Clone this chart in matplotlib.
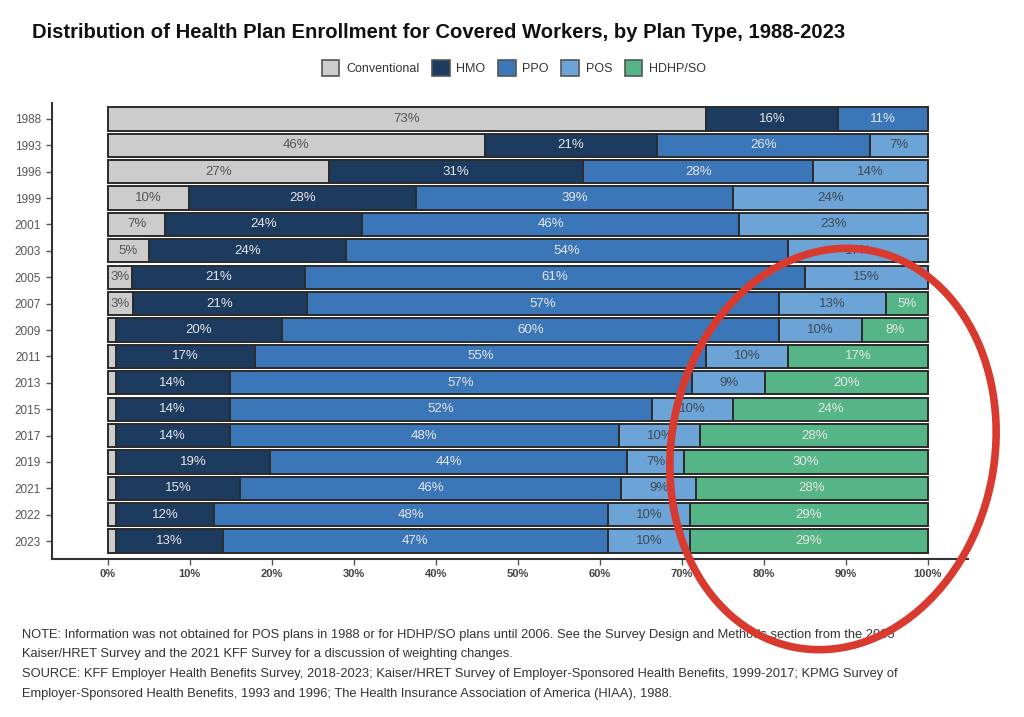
import matplotlib
matplotlib.use("Agg")
import matplotlib.pyplot as plt
import numpy as np
from matplotlib.patches import Patch, Ellipse

plt.rcParams['font.family'] = ['Liberation Sans', 'DejaVu Sans']

years = ["1988", "1993", "1996", "1999", "2001", "2003", "2005", "2007", "2009",
         "2011", "2013", "2015", "2017", "2019", "2021", "2022", "2023"]
plan_types = ["Conventional", "HMO", "PPO", "POS", "HDHP/SO"]
conventional = [73, 46, 27, 10, 7, 5, 3, 3, 1, 1, 1, 1, 1, 1, 1, 1, 1]
hmo = [16, 21, 31, 28, 24, 24, 21, 21, 20, 17, 14, 14, 14, 19, 15, 12, 13]
ppo = [11, 26, 28, 39, 46, 54, 61, 57, 60, 55, 57, 52, 48, 44, 46, 48, 47]
pos = [0, 7, 14, 24, 23, 17, 15, 13, 10, 10, 9, 10, 10, 7, 9, 10, 10]
hdhp = [0, 0, 0, 0, 0, 0, 0, 5, 8, 17, 20, 24, 28, 30, 28, 29, 29]
x_ticks = [0, 10, 20, 30, 40, 50, 60, 70, 80, 90, 100]

colors = ["#CCCCCC", "#1D3A5F", "#3A76B8", "#6CA4D8", "#55B587"]
text_colors = ["#555555", "#E6E6E6", "#E6E6E6", "#3F4A55", "#E6E6E6"]

series = np.array([conventional, hmo, ppo, pos, hdhp], dtype=float)
totals = series.sum(axis=0)
shares = series / totals * 100

W, H = 1024, 717
fig = plt.figure(figsize=(W / 100, H / 100), dpi=100)
ax = fig.add_axes([52 / W, 1 - 559 / H, (968 - 52) / W, (559 - 103) / H])

ypos = np.arange(len(years))
left = np.zeros(len(years))
for i, name in enumerate(plan_types):
    ax.barh(ypos, shares[i], left=left, height=0.88, color=colors[i],
            edgecolor="#2B2B2B", linewidth=1.4, label=name, zorder=2)
    for j in range(len(years)):
        v = series[i, j]
        if v >= 2:
            ax.text(left[j] + shares[i, j] / 2, ypos[j], f"{int(v)}%",
                    ha="center", va="center", fontsize=9.5,
                    color=text_colors[i], zorder=3)
    left += shares[i]

ax.set_ylim(len(years) - 1 + 0.68, -0.605)
ax.set_xlim(-6.8, 104.9)
ax.set_yticks(ypos)
ax.set_yticklabels(years, fontsize=8.5, color="#555555")
ax.set_xticks(x_ticks)
ax.set_xticklabels([f"{t}%" for t in x_ticks], fontsize=8, color="#444444",
                   fontweight="bold")
for s in ["top", "right"]:
    ax.spines[s].set_visible(False)
for s in ["left", "bottom"]:
    ax.spines[s].set_color("#333333")
    ax.spines[s].set_linewidth(1.5)
ax.tick_params(axis="both", colors="#555555", length=4, width=1)
ax.tick_params(axis="y", labelcolor="#555555", pad=4)
ax.tick_params(axis="x", labelcolor="#444444", pad=3)

fig.text(32 / W, 1 - 32 / H,
         "Distribution of Health Plan Enrollment for Covered Workers, by Plan Type, 1988-2023",
         fontsize=14.6, fontweight="bold", color="#111111", va="center", ha="left")

handles = [Patch(facecolor=colors[i], edgecolor="#555555", linewidth=1.2,
                 label=plan_types[i]) for i in range(len(plan_types))]
fig.legend(handles=handles, loc="center", bbox_to_anchor=(514 / W, 1 - 68 / H),
           ncol=5, frameon=False, fontsize=9, handlelength=1.4,
           handleheight=1.7, handletextpad=0.55, columnspacing=1.0,
           labelcolor="#333333")

notes = [
    "NOTE: Information was not obtained for POS plans in 1988 or for HDHP/SO plans until 2006. See the Survey Design and Methods section from the 2005",
    "Kaiser/HRET Survey and the 2021 KFF Survey for a discussion of weighting changes.",
    "SOURCE: KFF Employer Health Benefits Survey, 2018-2023; Kaiser/HRET Survey of Employer-Sponsored Health Benefits, 1999-2017; KPMG Survey of",
    "Employer-Sponsored Health Benefits, 1993 and 1996; The Health Insurance Association of America (HIAA), 1988.",
]
for k, line in enumerate(notes):
    fig.text(22 / W, 1 - (635 + 19.5 * k) / H, line, fontsize=9.3,
             color="#333333", va="center", ha="left")

ell = Ellipse((8.33, (H - 449) / 100), 3.23, 4.04, angle=-11,
              transform=fig.dpi_scale_trans, fill=False,
              edgecolor="#D93A30", linewidth=5.5, zorder=10)
fig.add_artist(ell)

fig.savefig("out.png", dpi=100)
